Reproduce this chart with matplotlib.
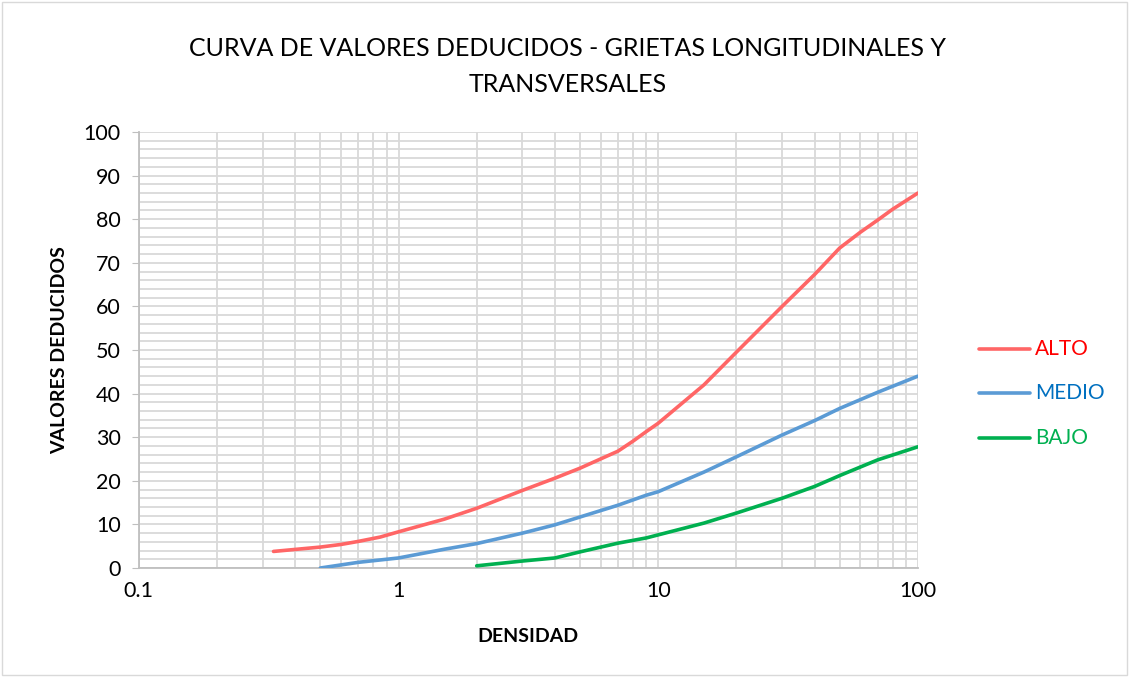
import matplotlib.pyplot as plt
from matplotlib.ticker import FixedLocator, FixedFormatter, LogLocator, MultipleLocator, NullFormatter

plt.rcParams['font.family'] = ['Lato', 'DejaVu Sans']

# Curvas
alto_x = [0.33, 0.5, 0.6, 0.7, 0.85, 1, 1.5, 2, 3, 4, 5, 7, 8, 9, 10, 15, 20, 30, 40, 50, 60, 70, 80, 100]
alto_y = [3.8, 4.8, 5.4, 6.1, 7.1, 8.3, 11.2, 13.7, 17.8, 20.6, 22.9, 26.8, 29.1, 31.3, 33.2, 42, 49.5, 60, 67.3, 73.4, 77, 79.8, 82.3, 86]

medio_x = [0.5, 0.7, 1, 1.5, 2, 3, 4, 5, 7, 9, 10, 15, 20, 30, 40, 50, 70, 100]
medio_y = [0, 1.3, 2.3, 4.3, 5.6, 8, 9.9, 11.7, 14.4, 16.7, 17.5, 22, 25.5, 30.5, 33.8, 36.6, 40.3, 44]

bajo_x = [2, 3, 4, 5, 7, 9, 10, 15, 20, 30, 40, 50, 70, 100]
bajo_y = [0.5, 1.6, 2.3, 3.7, 5.7, 6.9, 7.6, 10.3, 12.6, 16, 18.7, 21.2, 24.8, 27.8]

x_ticks = [0.1, 1, 10, 100]
x_labels = ['0.1', '1', '10', '100']

series = [
    ('ALTO', alto_x, alto_y, '#FF6666', '#FF0000'),
    ('MEDIO', medio_x, medio_y, '#5B9BD5', '#0070C0'),
    ('BAJO', bajo_x, bajo_y, '#00B050', '#00B050'),
]

fig = plt.figure(figsize=(11.29, 6.77), dpi=100)
ax = fig.add_axes([0.123, 0.161, 0.690, 0.644])

for name, xs, ys, lc, tc in series:
    ax.plot(xs, ys, color=lc, linewidth=2.6, solid_capstyle='round',
            solid_joinstyle='round', zorder=3)

ax.set_xscale('log')
ax.set_xlim(0.1, 100)
ax.set_ylim(0, 100)

ax.xaxis.set_major_locator(FixedLocator(x_ticks))
ax.xaxis.set_major_formatter(FixedFormatter(x_labels))
ax.xaxis.set_minor_locator(LogLocator(base=10, subs=range(2, 10)))
ax.xaxis.set_minor_formatter(NullFormatter())
ax.yaxis.set_major_locator(MultipleLocator(10))
ax.yaxis.set_minor_locator(MultipleLocator(2))

ax.grid(which='major', color='#D9D9D9', linewidth=1.3)
ax.grid(which='minor', color='#D9D9D9', linewidth=1.3)
ax.set_axisbelow(True)

for s in ['top', 'right']:
    ax.spines[s].set_visible(False)
for s in ['left', 'bottom']:
    ax.spines[s].set_color('#BFBFBF')
    ax.spines[s].set_linewidth(1.3)

ax.tick_params(axis='y', which='major', length=5, color='#BFBFBF', labelsize=15.5, pad=8)
ax.tick_params(axis='y', which='minor', length=0)
ax.tick_params(axis='x', which='both', length=0, labelsize=15.5, pad=9)

ax.set_xlabel('DENSIDAD', fontsize=14, fontweight='bold', labelpad=20)
ax.set_ylabel('VALORES DEDUCIDOS', fontsize=14, fontweight='bold', labelpad=11)

fig.text(0.503, 0.902, 'CURVA DE VALORES DEDUCIDOS - GRIETAS LONGITUDINALES Y\nTRANSVERSALES',
         ha='center', va='center', fontsize=18, linespacing=1.7)

# Leyenda a la derecha
leg_y = [0.485, 0.42, 0.353]
for (name, xs, ys, lc, tc), yy in zip(series, leg_y):
    fig.add_artist(plt.Line2D([0.867, 0.912], [yy, yy], color=lc, linewidth=2.6,
                              solid_capstyle='round', transform=fig.transFigure))
    fig.text(0.917, yy, name, color=tc, fontsize=15, va='center', ha='left')

fig.add_artist(plt.Rectangle((0.002, 0.003), 0.996, 0.994, fill=False, edgecolor='#D9D9D9',
                             linewidth=1, transform=fig.transFigure))

fig.savefig('out.png', dpi=100)
